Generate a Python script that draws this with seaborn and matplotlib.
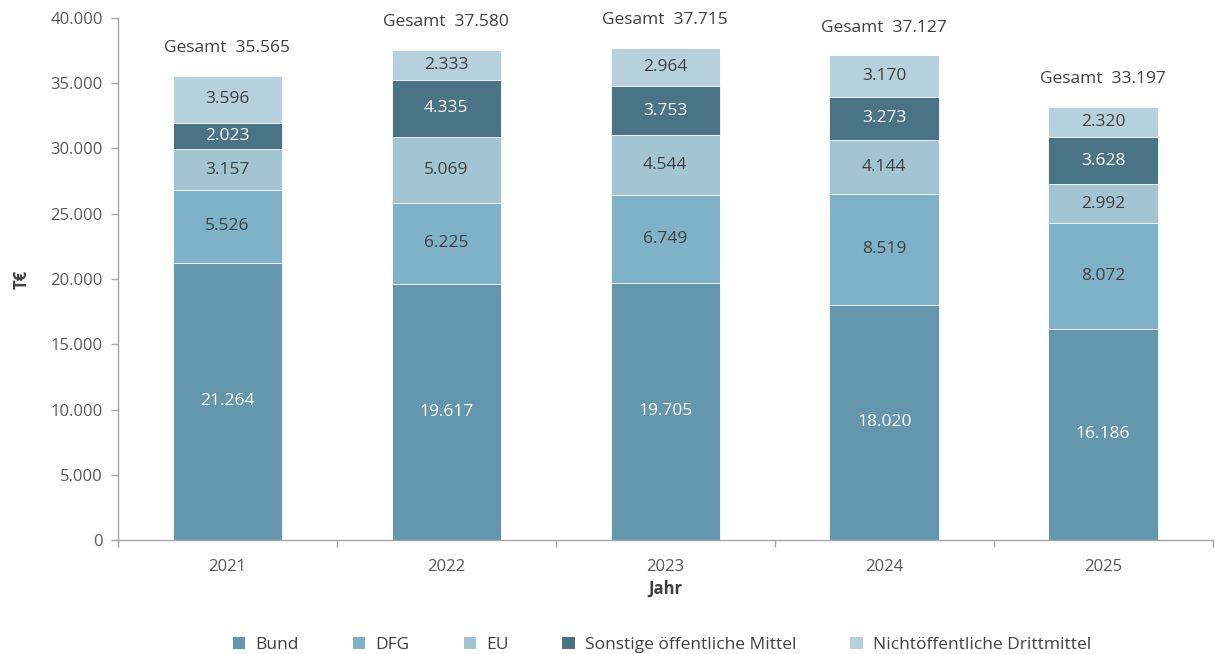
import numpy as np
import pandas as pd
import matplotlib.pyplot as plt
import seaborn as sns
from matplotlib.patches import Patch

# Data (T€)
years = ["2021", "2022", "2023", "2024", "2025"]
series = ["Bund", "DFG", "EU", "Sonstige öffentliche Mittel", "Nichtöffentliche Drittmittel"]
bund = [21264, 19617, 19705, 18020, 16186]
dfg = [5526, 6225, 6749, 8519, 8072]
eu = [3157, 5069, 4544, 4144, 2992]
sonstige = [2023, 4335, 3753, 3273, 3628]
nicht = [3596, 2333, 2964, 3170, 2320]
totals = [35565, 37580, 37715, 37127, 33197]
y_ticks = [0, 5000, 10000, 15000, 20000, 25000, 30000, 35000, 40000]

colors = ["#6497AD", "#7FB2C8", "#A3C4D3", "#4A7486", "#B7D1DC"]
label_colors = ["white", "#404040", "#404040", "white", "#404040"]

def fmt(v):
    return f"{v:,}".replace(",", ".")

df = pd.DataFrame({"Jahr": years, "Bund": bund, "DFG": dfg, "EU": eu,
                   "Sonstige öffentliche Mittel": sonstige,
                   "Nichtöffentliche Drittmittel": nicht})
cum = df[series].cumsum(axis=1)

sns.set_theme(style="white")
plt.rcParams["font.family"] = ["Open Sans", "DejaVu Sans"]

fig = plt.figure(figsize=(12.15, 6.54), dpi=100)
ax = fig.add_axes([0.0971, 0.1743, 0.9009, 0.7982])

# draw cumulative bars from top layer down so lower layers cover upper ones
for s, c in zip(reversed(series), reversed(colors)):
    sns.barplot(x=df["Jahr"], y=cum[s], color=c, width=0.5, ax=ax,
                edgecolor="white", linewidth=0.6, saturation=1)

# segment labels
for i in range(len(years)):
    bottom = 0
    for s, lc in zip(series, label_colors):
        v = df.loc[i, s]
        ax.text(i, bottom + v / 2, fmt(v), ha="center", va="center",
                fontsize=12.5, color=lc)
        bottom += v
    ax.annotate(f"Gesamt  {fmt(totals[i])}", (i, totals[i]), xytext=(0, 20),
                textcoords="offset points", ha="center", va="center",
                fontsize=12.5, color="#404040")

ax.set_xlim(-0.5, len(years) - 0.5)
ax.set_ylim(0, 40000)
ax.set_yticks(y_ticks)
ax.set_yticklabels([fmt(t) for t in y_ticks])
ax.tick_params(axis="y", labelsize=12, colors="#595959", length=5, width=1,
               left=True, pad=6, color="#A6A6A6")
ax.tick_params(axis="x", labelsize=12, colors="#595959", length=0, pad=14)
# x ticks at category boundaries
ax.set_xticks(np.arange(-0.5, len(years)), minor=True)
ax.tick_params(axis="x", which="minor", bottom=True, length=5, width=1, color="#A6A6A6")

for side in ["top", "right"]:
    ax.spines[side].set_visible(False)
for side in ["left", "bottom"]:
    ax.spines[side].set_color("#A6A6A6")
    ax.spines[side].set_linewidth(1)

ax.set_xlabel("Jahr", fontsize=12, fontweight="bold", color="#404040", labelpad=3)
ax.set_ylabel("T€", fontsize=12, fontweight="bold", color="#404040", labelpad=14)

handles = [Patch(facecolor=c, edgecolor="none") for c in colors]
fig.legend(handles, series, loc="center", bbox_to_anchor=(0.545, 0.014), ncol=5,
           frameon=False, fontsize=12.5, handlelength=0.7, handleheight=0.7,
           columnspacing=3.1, handletextpad=0.6, labelcolor="#404040")

fig.savefig("out.png", dpi=100)
